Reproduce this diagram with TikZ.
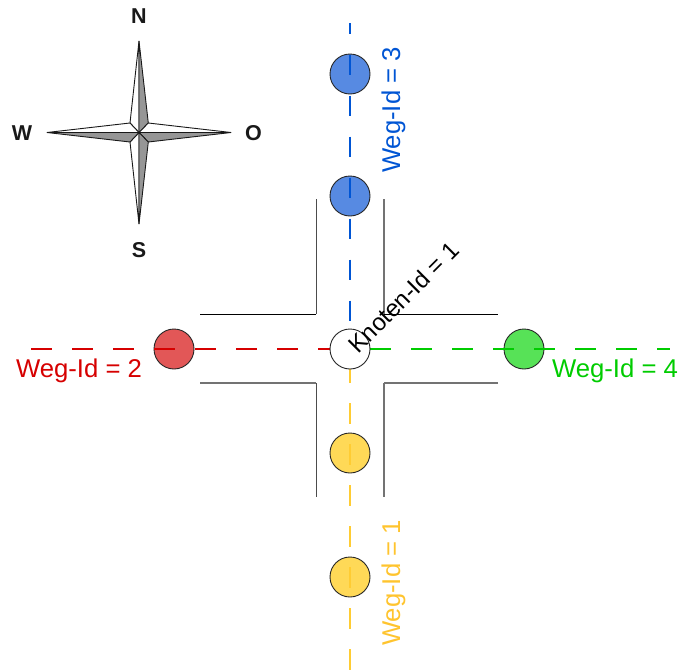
\documentclass[tikz,border=0pt]{standalone}
\usepackage{fontspec}
\setmainfont{Liberation Sans}
\definecolor{wegblue}{RGB}{0,85,212}
\definecolor{wegred}{RGB}{214,0,0}
\definecolor{weggreen}{RGB}{0,204,0}
\definecolor{wegyellow}{RGB}{255,204,51}
\definecolor{fillblue}{RGB}{87,138,226}
\definecolor{fillred}{RGB}{226,87,87}
\definecolor{fillgreen}{RGB}{87,226,87}
\definecolor{fillyellow}{RGB}{255,217,87}
\definecolor{roselt}{RGB}{150,150,150}
\tikzset{
  wegdash/.style={line width=1.25pt,dash pattern=on 20.5pt off 20.5pt},
  punkt/.style={circle,draw=black!85,line width=0.9pt,minimum size=40pt,inner sep=0pt,outer sep=0pt},
  roaddark/.style={draw=black,line width=0.9pt,line cap=square},
  roadmid/.style={draw=black!70,line width=1pt,line cap=square},
  roadgray/.style={draw=black!55,line width=1.3pt,line cap=square},
  lbl/.style={font=\fontsize{25.7}{29}\selectfont,inner sep=0pt},
  klbl/.style={font=\fontsize{24}{28}\selectfont,inner sep=0pt},
  dirlbl/.style={font=\fontsize{21.5}{25}\selectfont\bfseries,text=black!90,inner sep=0pt},
  roseline/.style={draw=black!90,line width=0.9pt,line join=miter}
}
\begin{document}
\begin{tikzpicture}[x=1pt,y=-1pt]
\useasboundingbox (0,0) rectangle (681,672);
% roads
\draw[roadmid] (316,199) -- (316,314);
\draw[roaddark] (316,314.3) -- (200,314.3);
\draw[roadgray] (384,199) -- (384,314);
\draw[roaddark] (384,314.3) -- (498,314.3);
\draw[roadgray] (200,383) -- (316,383);
\draw[roadmid] (316,383) -- (316,497);
\draw[roadgray] (498,383) -- (384,383);
\draw[roadgray] (384,383) -- (384,497);
% circles
\node[punkt,fill=fillblue] (b1) at (350,74) {};
\node[punkt,fill=fillblue] (b2) at (350,196) {};
\node[punkt,fill=fillyellow] (y1) at (350,453) {};
\node[punkt,fill=fillyellow] (y2) at (350,577) {};
\node[punkt,fill=fillred] (r1) at (174,349) {};
\node[punkt,fill=fillgreen] (g1) at (524,349) {};
% connector ends
\coordinate (ct) at (350,349);
\coordinate (bend) at (350,23);
\coordinate (yend) at (350,670);
\coordinate (rend) at (31,349);
\coordinate (gend) at (670,349);
\draw[wegdash,wegyellow,dash phase=28pt] (ct) -- (yend);
\draw[wegdash,weggreen,dash phase=21pt] (ct) -- (gend);
\draw[wegdash,wegblue,dash phase=9.5pt] (bend) -- (ct);
\draw[wegdash,wegred] (rend) -- (ct);
\node[punkt,fill=white] (k) at (ct) {};
% labels
\node[lbl,text=wegblue,rotate=90] (lb) at (393.5,110) {Weg-Id = 3};
\node[lbl,text=wegyellow!90!orange,rotate=90] (ly) at (393.5,583) {Weg-Id = 1};
\node[lbl,text=wegred] (lr) at (79,370.5) {Weg-Id = 2};
\node[lbl,text=weggreen] (lg) at (615,370.5) {Weg-Id = 4};
\node[klbl,text=black,rotate=45] (lk) at (403.5,297.5) {Knoten-Id = 1};
% compass
\coordinate (c) at (139,132.5);
\coordinate (nn) at (139,41);
\coordinate (ss) at (139,224);
\coordinate (ww) at (47,132.5);
\coordinate (oo) at (231,132.5);
\coordinate (nw) at (130,123);
\coordinate (ne) at (148.3,123);
\coordinate (sw) at (130,142);
\coordinate (se) at (148.3,142);
\filldraw[roseline,fill=white] (nn) -- (nw) -- (c) -- cycle;
\filldraw[roseline,fill=roselt] (nn) -- (ne) -- (c) -- cycle;
\filldraw[roseline,fill=white] (oo) -- (ne) -- (c) -- cycle;
\filldraw[roseline,fill=roselt] (oo) -- (se) -- (c) -- cycle;
\filldraw[roseline,fill=white] (ss) -- (sw) -- (c) -- cycle;
\filldraw[roseline,fill=roselt] (ss) -- (se) -- (c) -- cycle;
\filldraw[roseline,fill=white] (ww) -- (nw) -- (c) -- cycle;
\filldraw[roseline,fill=roselt] (ww) -- (sw) -- (c) -- cycle;
\node[dirlbl] (dn) at (139,16.5) {N};
\node[dirlbl] (ds) at (139,250.5) {S};
\node[dirlbl] (dw) at (22,133) {W};
\node[dirlbl] (do) at (253.5,133) {O};
\end{tikzpicture}
\end{document}
